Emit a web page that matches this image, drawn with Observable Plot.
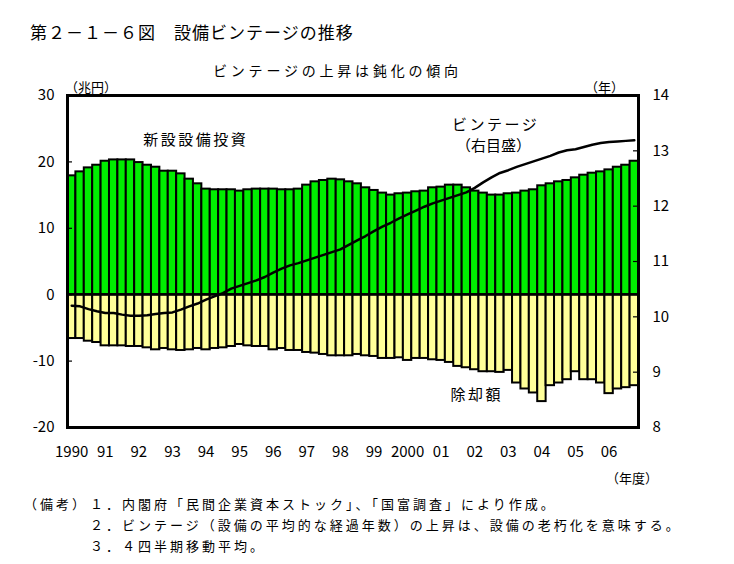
<!DOCTYPE html>
<html><head><meta charset="utf-8">
<script src="https://cdn.jsdelivr.net/npm/d3@7"></script>
<script src="https://cdn.jsdelivr.net/npm/@observablehq/plot@0.6"></script>
<style>
body{margin:0;background:#fff;font-family:"Noto Sans CJK JP",sans-serif;}
#fig{position:relative;width:734px;height:564px;overflow:hidden;background:#fff}
#fig svg{position:absolute;left:0;top:50px;z-index:0}
.t{position:absolute;white-space:nowrap;line-height:1;color:#000;z-index:1}
</style></head><body>
<div id="fig">
<div class="t" style="left:30px;top:23px;font-size:17px;letter-spacing:1px">第２－１－６図　設備ビンテージの推移</div>
<div class="t" style="left:213px;top:63px;font-size:14px;letter-spacing:3.8px">ビンテージの上昇は鈍化の傾向</div>
<div class="t" style="left:65px;top:80px;font-size:13px">（兆円）</div>
<div class="t" style="left:585px;top:80px;font-size:13px">（年）</div>
<div class="t" style="left:606px;top:471px;font-size:13px">（年度）</div>
<div class="t" style="left:24px;top:497px;font-size:13px;letter-spacing:3px">（備考）</div>
<div class="t" style="left:90px;top:497px;font-size:13px;letter-spacing:3px">１．内閣府「民間企業資本ストック」、「国富調査」により作成。</div>
<div class="t" style="left:90px;top:518px;font-size:13px;letter-spacing:3px">２．ビンテージ（設備の平均的な経過年数）の上昇は、設備の老朽化を意味する。</div>
<div class="t" style="left:90px;top:539px;font-size:13px;letter-spacing:3px">３．４四半期移動平均。</div>
</div>
<script>
// Fiscal-year labels (one per 4 quarters, 1990–2006)
const years = ["1990","91","92","93","94","95","96","97","98","99","2000","01","02","03","04","05","06"];
// 新設設備投資 (兆円), quarterly, 4-quarter moving average
const investment = [17.9,18.5,19.1,19.5,20.1,20.3,20.3,20.3,19.9,19.5,19.2,18.6,18.6,18.2,17.4,16.7,
  15.9,15.8,15.8,15.8,15.6,15.8,15.9,15.9,15.9,15.8,15.8,15.9,16.5,17.0,17.2,17.4,
  17.3,17.0,16.7,16.1,15.7,15.3,15.0,15.2,15.3,15.5,15.6,16.1,16.2,16.5,16.5,16.1,
  15.6,15.3,15.0,15.0,15.2,15.3,15.6,15.8,16.4,16.7,17.0,17.2,17.6,18.0,18.3,18.5,
  18.8,19.2,19.5,20.1];
// 除却額 (兆円)
const depreciation = [-6.6,-6.6,-7.0,-7.2,-7.7,-7.7,-7.7,-7.8,-7.8,-8.0,-8.3,-8.1,-8.3,-8.4,-8.3,-8.1,
  -8.3,-8.1,-8.0,-7.8,-7.5,-7.7,-7.8,-7.8,-8.3,-8.1,-8.4,-8.4,-8.7,-8.8,-9.0,-9.2,
  -9.2,-9.2,-9.0,-9.2,-9.3,-9.6,-9.6,-9.5,-9.9,-9.6,-9.6,-9.8,-9.9,-10.2,-10.8,-11.0,
  -11.3,-11.6,-11.6,-11.7,-11.4,-13.3,-14.2,-14.8,-16.1,-13.7,-13.3,-12.8,-11.6,-12.8,-12.8,-13.3,
  -14.9,-14.2,-14.0,-13.7];
// ビンテージ (年, right scale)
const vintage = [10.20,10.19,10.14,10.10,10.07,10.07,10.04,10.02,10.02,10.03,10.05,10.07,10.08,10.13,10.19,10.24,
  10.31,10.37,10.43,10.51,10.56,10.61,10.66,10.72,10.80,10.87,10.93,10.97,11.02,11.07,11.12,11.17,
  11.22,11.30,11.38,11.46,11.55,11.63,11.70,11.78,11.85,11.92,11.99,12.05,12.10,12.15,12.20,12.25,
  12.33,12.43,12.52,12.60,12.65,12.71,12.76,12.81,12.86,12.91,12.97,13.01,13.03,13.07,13.11,13.14,
  13.16,13.17,13.18,13.19];
const leftTicks = [-20,-10,0,10,20,30];
const rightTicks = [8,9,10,11,12,13,14];

const quarters = investment.map((_, i) => i);
// right axis (8–14 年) mapped onto left axis (-20–30 兆円)
const toLeft = v => (v - 8) / 6 * 50 - 20;
const fromLeft = y => (y + 20) / 50 * 6 + 8;

const chart = Plot.plot({
  width: 734, height: 440,
  marginTop: 45, marginBottom: 63, marginLeft: 67, marginRight: 96,
  style: {fontFamily: "'Noto Sans CJK JP', sans-serif", fontSize: "15px", color: "#000", background: "transparent"},
  x: {type: "band", domain: quarters, padding: 0, round: false},
  y: {domain: [-20, 30]},
  marks: [
    Plot.barY(quarters, {x: d => d, y: i => investment[i], fill: "#00ee00", stroke: "#000", strokeWidth: 2}),
    Plot.barY(quarters, {x: d => d, y: i => depreciation[i], fill: "#ffff99", stroke: "#000", strokeWidth: 2}),
    Plot.ruleY([0], {stroke: "#000", strokeWidth: 2}),
    Plot.line(quarters, {x: d => d, y: i => toLeft(vintage[i]), stroke: "#000", strokeWidth: 2.5}),
    Plot.ruleY(leftTicks, {stroke: "#000", strokeWidth: 1.2, insetRight: 566}),
    Plot.ruleY(rightTicks.map(toLeft), {stroke: "#000", strokeWidth: 1.2, insetLeft: 566}),
    Plot.axisY({ticks: leftTicks, tickFormat: d => String(d), tickSize: 0, tickPadding: 13, label: null, fontSize: 15}),
    Plot.axisY({anchor: "right", ticks: rightTicks.map(toLeft), tickFormat: d => String(Math.round(fromLeft(d))), tickSize: 0, tickPadding: 14, label: null, fontSize: 15}),
    Plot.axisX({ticks: quarters.filter(i => i % 4 === 0), tickFormat: i => years[i / 4], tickSize: 0, tickPadding: 19, label: null, fontSize: 15}),
    Plot.frame({stroke: "#000", strokeWidth: 3}),
    Plot.text(["新設設備投資"], {x: [15], y: [23.2], dx: -2, fontSize: 15, fill: "#000"}),
    Plot.text(["ビンテージ"], {x: [50], y: [25.6], dx: 4, fontSize: 15, fill: "#000"}),
    Plot.text(["（右目盛）"], {x: [50], y: [22.3], dx: 2, fontSize: 15, fill: "#000"}),
    Plot.text(["除却額"], {x: [48], y: [-15.06], dx: 2, fontSize: 15, fill: "#000"})
  ]
});
d3.select(chart).selectAll("text")
  .filter(function() { return ["新設設備投資","ビンテージ","除却額"].includes(this.textContent); })
  .style("letter-spacing", "2.5px");
document.getElementById("fig").prepend(chart);
</script>
</body></html>
